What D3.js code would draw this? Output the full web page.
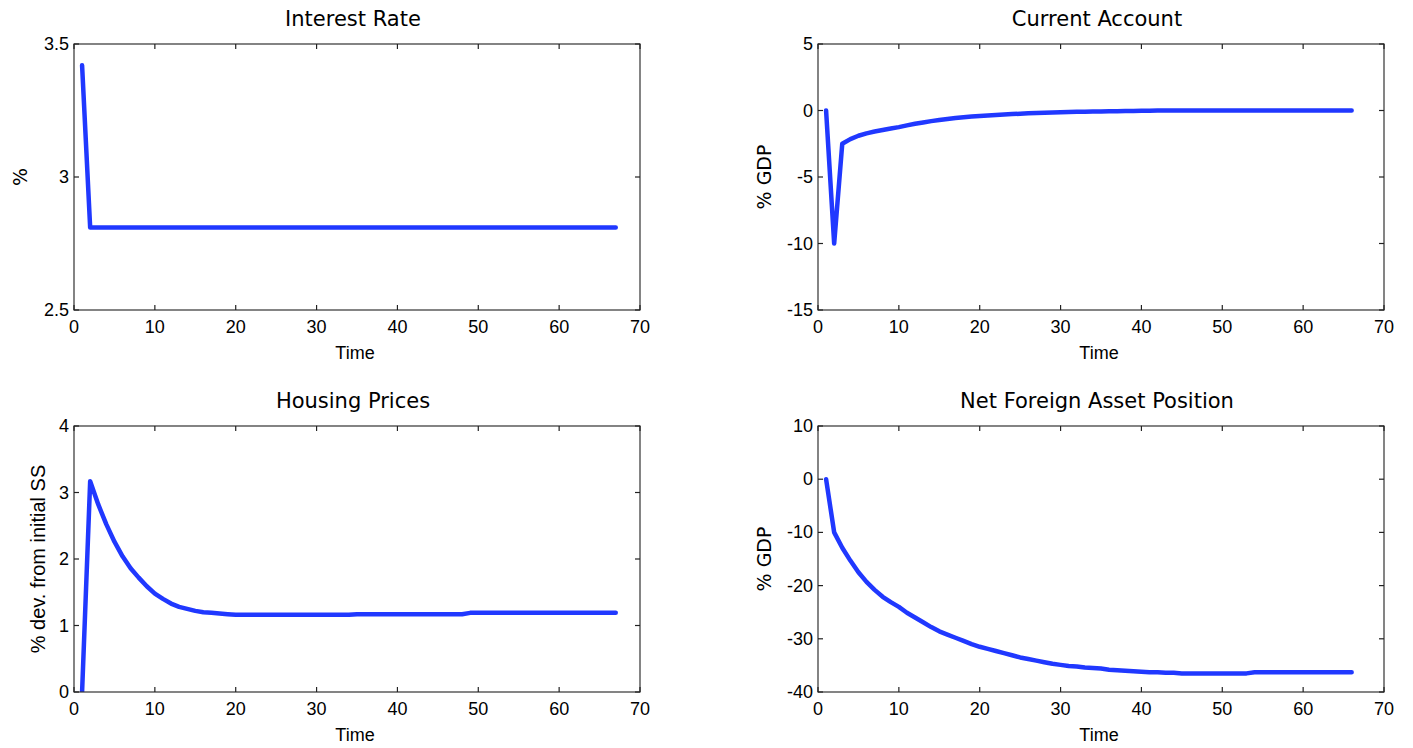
<!DOCTYPE html>
<html>
<head>
<meta charset="utf-8">
<script src="https://cdn.jsdelivr.net/npm/d3@7"></script>
<style>
  body { margin: 0; background: #fff; }
  .tick-label { font-family: "Liberation Sans", Arial, sans-serif; font-size: 18px; fill: #000; }
  .title { font-family: "DejaVu Sans", sans-serif; font-size: 21px; fill: #000; }
  .ylab-c { font-family: "DejaVu Sans", sans-serif; font-size: 19px; fill: #000; }
  .xlab { font-family: "Liberation Sans", Arial, sans-serif; font-size: 18px; fill: #000; }
  .ylab-h { font-family: "Liberation Sans", Arial, sans-serif; font-size: 20px; fill: #000; }
</style>
</head>
<body>
<svg id="chart" width="1413" height="748"></svg>
<script>
const width = 1413, height = 748;

// time index per series
const timeLong = [1,2,3,4,5,6,7,8,9,10,11,12,13,14,15,16,17,18,19,20,21,22,23,24,25,26,27,28,29,30,31,32,33,34,35,36,37,38,39,40,41,42,43,44,45,46,47,48,49,50,51,52,53,54,55,56,57,58,59,60,61,62,63,64,65,66,67];
const timeShort = timeLong.slice(0, 66);

const interestRate = [3.42,2.81,2.81,2.81,2.81,2.81,2.81,2.81,2.81,2.81,2.81,2.81,2.81,2.81,2.81,2.81,2.81,2.81,2.81,2.81,
  2.81,2.81,2.81,2.81,2.81,2.81,2.81,2.81,2.81,2.81,2.81,2.81,2.81,2.81,2.81,2.81,2.81,2.81,2.81,2.81,
  2.81,2.81,2.81,2.81,2.81,2.81,2.81,2.81,2.81,2.81,2.81,2.81,2.81,2.81,2.81,2.81,2.81,2.81,2.81,2.81,
  2.81,2.81,2.81,2.81,2.81,2.81,2.81];

const currentAccount = [0,-10,-2.5,-2.15,-1.9,-1.72,-1.58,-1.47,-1.36,-1.25,-1.12,-1.0,-0.9,-0.8,-0.72,-0.64,-0.56,-0.5,-0.45,-0.41,
  -0.37,-0.33,-0.3,-0.27,-0.24,-0.21,-0.19,-0.17,-0.15,-0.13,-0.12,-0.1,-0.09,-0.08,-0.07,-0.06,-0.05,-0.04,-0.03,-0.02,
  -0.01,0,0,0,0,0,0,0,0,0,0,0,0,0,0,0,0,0,0,0,0,0,0,0,0,0];

const housingPrices = [0,3.17,2.82,2.52,2.26,2.04,1.86,1.72,1.59,1.48,1.40,1.33,1.28,1.25,1.22,1.2,1.19,1.18,1.17,1.16,
  1.16,1.16,1.16,1.16,1.16,1.16,1.16,1.16,1.16,1.16,1.16,1.16,1.16,1.16,1.17,1.17,1.17,1.17,1.17,1.17,
  1.17,1.17,1.17,1.17,1.17,1.17,1.17,1.17,1.19,1.19,1.19,1.19,1.19,1.19,1.19,1.19,1.19,1.19,1.19,1.19,
  1.19,1.19,1.19,1.19,1.19,1.19,1.19];

const netForeignAssets = [0,-10,-12.9,-15.3,-17.5,-19.3,-20.8,-22.1,-23.1,-24.0,-25.1,-26.0,-26.9,-27.8,-28.6,-29.2,-29.8,-30.4,-31.0,-31.5,
  -31.9,-32.3,-32.7,-33.1,-33.5,-33.8,-34.1,-34.4,-34.7,-34.9,-35.1,-35.2,-35.4,-35.5,-35.6,-35.8,-35.9,-36.0,-36.1,-36.2,
  -36.3,-36.3,-36.4,-36.4,-36.5,-36.5,-36.5,-36.5,-36.5,-36.5,-36.5,-36.5,-36.5,-36.3,-36.3,-36.3,-36.3,-36.3,-36.3,-36.3,
  -36.3,-36.3,-36.3,-36.3,-36.3,-36.3];

const xTicks = [0,10,20,30,40,50,60,70];

const panels = [
  {title: "Interest Rate", ylabel: "%", ylabClass: "ylab-c", x: timeLong, y: interestRate,
   yDomain: [2.5, 3.5], yTicks: [2.5, 3, 3.5], left: 74, top: 44, ylabX: 27},
  {title: "Current Account", ylabel: "% GDP", ylabClass: "ylab-c", x: timeShort, y: currentAccount,
   yDomain: [-15, 5], yTicks: [-15, -10, -5, 0, 5], left: 818, top: 44, ylabX: 771},
  {title: "Housing Prices", ylabel: "% dev. from initial SS", ylabClass: "ylab-h", x: timeLong, y: housingPrices,
   yDomain: [0, 4], yTicks: [0, 1, 2, 3, 4], left: 74, top: 426, ylabX: 45},
  {title: "Net Foreign Asset Position", ylabel: "% GDP", ylabClass: "ylab-c", x: timeShort, y: netForeignAssets,
   yDomain: [-40, 10], yTicks: [-40, -30, -20, -10, 0, 10], left: 818, top: 426, ylabX: 771}
];

const pw = 566, ph = 266, tickLen = 5;
const svg = d3.select("#chart");

panels.forEach(function(p, i) {
  const g = svg.append("g").attr("transform", "translate(" + p.left + "," + p.top + ")");

  const x = d3.scaleLinear().domain([0, 70]).range([0, pw]);
  const y = d3.scaleLinear().domain(p.yDomain).range([ph, 0]);

  g.append("clipPath").attr("id", "clip" + i)
    .append("rect").attr("width", pw).attr("height", ph);

  const line = d3.line().x((d, j) => x(p.x[j])).y(d => y(d));
  g.append("path")
    .datum(p.y)
    .attr("clip-path", "url(#clip" + i + ")")
    .attr("fill", "none")
    .attr("stroke", "#2038ff")
    .attr("stroke-width", 4.5)
    .attr("stroke-linejoin", "round")
    .attr("stroke-linecap", "round")
    .attr("d", line);

  // box
  g.append("rect").attr("width", pw).attr("height", ph)
    .attr("fill", "none").attr("stroke", "#333").attr("stroke-width", 1.2);

  // inward ticks on all four sides
  const ticksG = g.append("g").attr("stroke", "#222").attr("stroke-width", 1.2);
  xTicks.forEach(function(t) {
    ticksG.append("line").attr("x1", x(t)).attr("x2", x(t)).attr("y1", ph).attr("y2", ph - tickLen);
    ticksG.append("line").attr("x1", x(t)).attr("x2", x(t)).attr("y1", 0).attr("y2", tickLen);
  });
  p.yTicks.forEach(function(t) {
    ticksG.append("line").attr("x1", 0).attr("x2", tickLen).attr("y1", y(t)).attr("y2", y(t));
    ticksG.append("line").attr("x1", pw).attr("x2", pw - tickLen).attr("y1", y(t)).attr("y2", y(t));
  });

  g.selectAll(".xt").data(xTicks).enter().append("text")
    .attr("class", "tick-label")
    .attr("x", d => x(d)).attr("y", ph + 23)
    .attr("text-anchor", "middle")
    .text(d => d);

  g.selectAll(".yt").data(p.yTicks).enter().append("text")
    .attr("class", "tick-label")
    .attr("x", -5).attr("y", d => y(d) + 6)
    .attr("text-anchor", "end")
    .text(d => String(d));

  g.append("text").attr("class", "xlab")
    .attr("x", pw / 2 - 2).attr("y", ph + 49)
    .attr("text-anchor", "middle").text("Time");

  g.append("text").attr("class", "title")
    .attr("x", pw / 2 - 4).attr("y", -18)
    .attr("text-anchor", "middle").text(p.title);

  svg.append("text").attr("class", p.ylabClass)
    .attr("transform", "translate(" + p.ylabX + "," + (p.top + ph / 2) + ") rotate(-90)")
    .attr("text-anchor", "middle").text(p.ylabel);
});
</script>
</body>
</html>
